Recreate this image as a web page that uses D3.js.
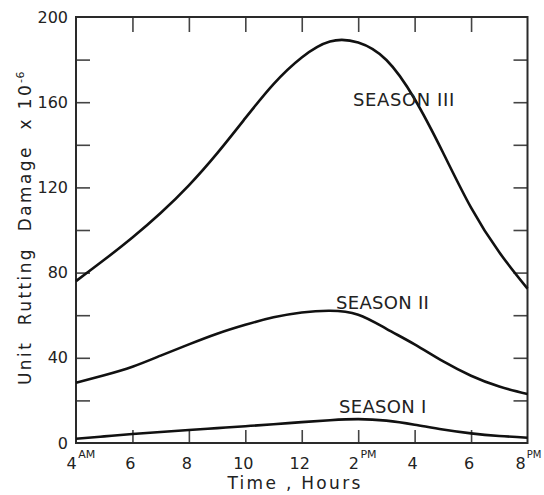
<!DOCTYPE html>
<html>
<head>
<meta charset="utf-8">
<script src="https://cdn.jsdelivr.net/npm/d3@7"></script>
<style>
  html, body { margin: 0; padding: 0; background: #fff; }
  svg { display: block; }
  text { font-family: "DejaVu Sans", sans-serif; fill: #222; }
</style>
</head>
<body>
<div id="chart"></div>
<script>
// ---- data ----
const hours = [4, 5, 6, 7, 8, 9, 10, 11, 12, 13, 14, 15, 16, 17, 18, 19, 20];
const season1 = [2.0, 3.1, 4.2, 5.2, 6.1, 7.0, 7.9, 8.8, 9.8, 10.7, 11.2, 10.5, 8.6, 6.3, 4.5, 3.3, 2.5];
const season2 = [28.3, 31.8, 35.8, 41.0, 46.3, 51.3, 55.5, 59.0, 61.3, 62.1, 60.2, 53.6, 46.3, 38.4, 31.6, 26.5, 23.0];
const season3 = [76.0, 86.0, 96.5, 108.0, 121.0, 136.0, 152.5, 168.5, 181.0, 188.5, 188.0, 179.8, 161.5, 136.5, 110.5, 89.5, 72.5];
const seriesNames = ["SEASON I", "SEASON II", "SEASON III"];

const yLabelTicks = [0, 40, 80, 120, 160, 200];
const yMinorTicks = [20, 40, 60, 80, 100, 120, 140, 160, 180];
const xTickHours = [4, 6, 8, 10, 12, 14, 16, 18, 20];
const xTickLabels = ["4", "6", "8", "10", "12", "2", "4", "6", "8"];
const xTickSups = ["AM", "", "", "", "", "PM", "", "", "PM"];
const xInnerTicks = [6, 8, 10, 12, 14, 16, 18];

const xTitle = "Time , Hours";
const yTitle = "Unit  Rutting  Damage  x 10";
const yTitleSup = "-6";

// ---- layout ----
const W = 544, H = 495;
const L = 76, R = 527.5, T = 17, B = 443;

const svg = d3.select("#chart").append("svg").attr("width", W).attr("height", H);

const x = d3.scaleLinear().domain([4, 20]).range([L, R]);
const y = d3.scaleLinear().domain([0, 200]).range([B, T]);

// inner ticks
const tickStyle = g => {
  g.select(".domain").remove();
  g.selectAll(".tick line").attr("stroke", "#444").attr("stroke-width", 1.6);
};
svg.append("g").attr("transform", `translate(${L},0)`)
  .call(d3.axisLeft(y).tickValues(yMinorTicks).tickSize(-14).tickFormat(""))
  .call(tickStyle);
svg.append("g").attr("transform", `translate(${R},0)`)
  .call(d3.axisRight(y).tickValues(yMinorTicks).tickSize(-14).tickFormat(""))
  .call(tickStyle);
svg.append("g").attr("transform", `translate(0,${T})`)
  .call(d3.axisTop(x).tickValues(xInnerTicks).tickSize(-15).tickFormat(""))
  .call(tickStyle);
svg.append("g").attr("transform", `translate(0,${B})`)
  .call(d3.axisBottom(x).tickValues(xInnerTicks).tickSize(-13).tickFormat(""))
  .call(tickStyle);

// y labels
const yl = svg.append("g").attr("transform", `translate(${L},0)`)
  .call(d3.axisLeft(y).tickValues(yLabelTicks).tickSize(0).tickPadding(8).tickFormat(d3.format("d")));
yl.select(".domain").remove();
yl.selectAll("text").attr("font-size", 16).attr("font-family", "DejaVu Sans").attr("fill", "#222");

// x labels
const xl = svg.append("g");
xTickHours.forEach((h, i) => {
  const t = xl.append("text").attr("y", 469).attr("font-size", 16);
  if (xTickSups[i]) {
    const last = i === xTickHours.length - 1;
    t.attr("x", x(h) - (last ? 12 : 9.5)).attr("text-anchor", "start");
    t.append("tspan").text(xTickLabels[i]);
    t.append("tspan").attr("font-size", last ? 10 : 11).attr("dy", -11).attr("dx", last ? 1 : 1.5).text(xTickSups[i]);
  } else {
    t.attr("x", x(h) - 2).attr("text-anchor", "middle").text(xTickLabels[i]);
  }
});

// frame
svg.append("rect").attr("x", L).attr("y", T).attr("width", R - L).attr("height", B - T)
  .attr("fill", "none").attr("stroke", "#2a2a2a").attr("stroke-width", 2);

// curves
const line = d3.line().x((d, i) => x(hours[i])).y(d => y(d)).curve(d3.curveNatural);
[season1, season2, season3].forEach(s => {
  svg.append("path").datum(s).attr("d", line)
    .attr("fill", "none").attr("stroke", "#111").attr("stroke-width", 2.6)
    .attr("stroke-linejoin", "round");
});

// series labels
const labelPos = [
  {x: 339, y: 413},
  {x: 336, y: 309},
  {x: 353, y: 106}
];
seriesNames.forEach((n, i) => {
  svg.append("text").attr("x", labelPos[i].x).attr("y", labelPos[i].y)
    .attr("font-size", 18).attr("letter-spacing", i === 2 ? 0.6 : 0.3).attr("fill", "#333").text(n);
});

// axis titles
svg.append("text").attr("x", 295).attr("y", 489).attr("text-anchor", "middle")
  .attr("font-size", 17).attr("letter-spacing", 2.3).style("white-space", "pre").text(xTitle);

const yt = svg.append("text").attr("transform", "translate(31,385) rotate(-90)")
  .attr("text-anchor", "start").attr("font-size", 17).attr("letter-spacing", 2.4)
  .style("white-space", "pre");
yt.append("tspan").text(yTitle);
yt.append("tspan").attr("font-size", 11).attr("dy", -7).attr("letter-spacing", 0.5).text(yTitleSup);
</script>
</body>
</html>
